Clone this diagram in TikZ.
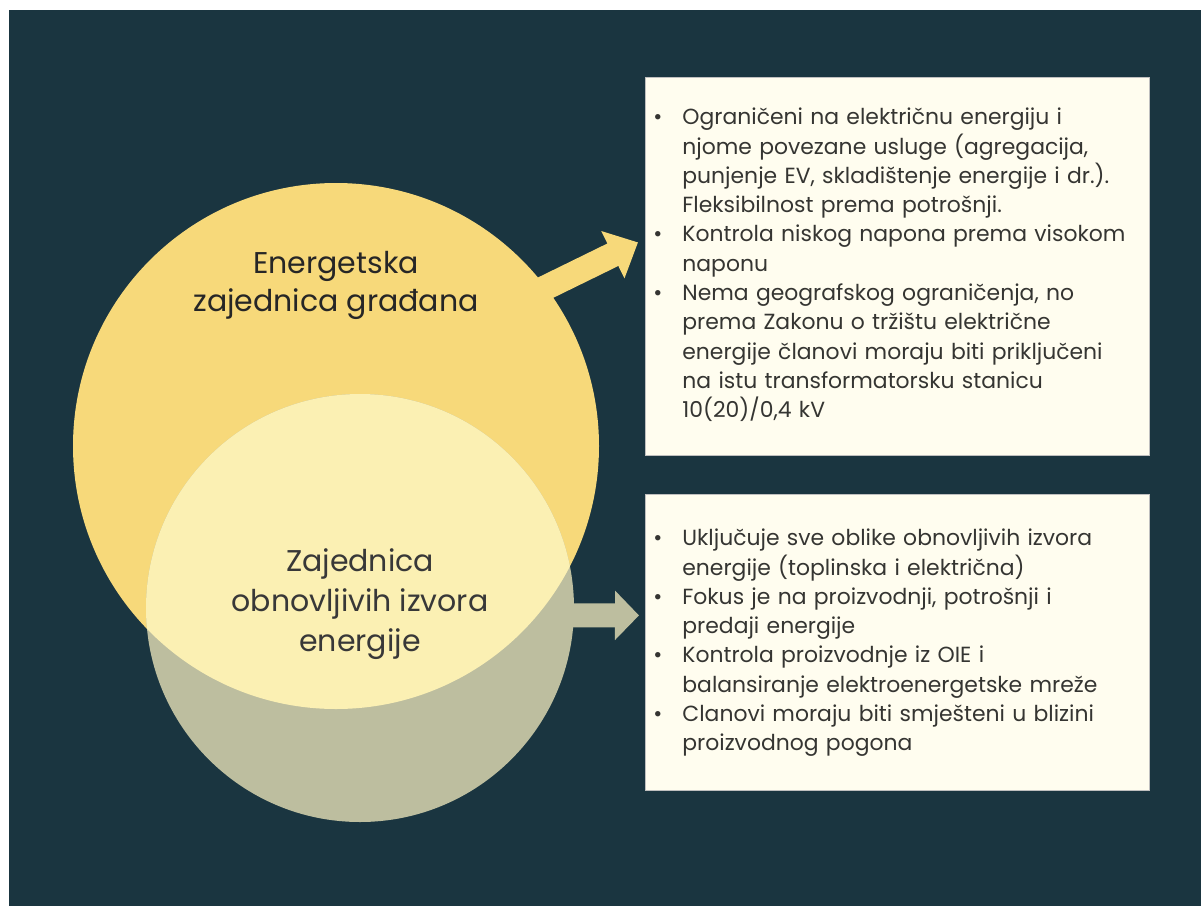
\documentclass[tikz,border=0pt]{standalone}
\usepackage{fontspec}
\setmainfont{Poppins}
\usepackage{enumitem}
\usetikzlibrary{calc,arrows.meta}
\definecolor{bgteal}{HTML}{1A3540}
\definecolor{sunyel}{HTML}{F7D97A}
\definecolor{paleyel}{HTML}{FBF0B3}
\definecolor{sage}{HTML}{BDBE9F}
\definecolor{cream}{HTML}{FFFDEF}
\definecolor{ink}{HTML}{353532}
\tikzset{l/.style={font=\fontsize{15}{19}\selectfont, align=center, text=black!85}}
\tikzset{m/.style={font=\fontsize{15}{20}\selectfont, align=center, text=black!78}}
\tikzset{box/.style={draw=black!25, line width=0.4pt, fill=cream, inner sep=0pt, anchor=north west, minimum width=252pt}}
\tikzset{pts/.style={anchor=north west, inner sep=0pt, text width=245pt, text=ink, font=\fontsize{10.95}{14.65}\selectfont}}
\tikzset{barrow/.style={line width=12.5pt, -{Triangle[length=14pt,width=25.5pt]}}}
\newcommand{\blist}[1]{\raggedright\begin{itemize}[leftmargin=12.5pt,labelsep=10pt,itemsep=0pt,topsep=0pt,parsep=0pt,partopsep=0pt,label=\textbullet]#1\end{itemize}}

\begin{document}
\begin{tikzpicture}[x=0.5pt,y=-0.5pt]
  \useasboundingbox (0,0) rectangle (1201,906);
  \fill[white] (0,0) rectangle (1201,906);
  \fill[bgteal] (9,10) rectangle (1201,906);

  \node[box, minimum height=189pt] (box1) at (645,77) {};
  \node[box, minimum height=148pt] (box2) at (645,494) {};
  \coordinate (ezgc) at (336,446);
  \coordinate (zoiec) at (360,608);
  \coordinate (tipA) at ($(box1.west)+(-7,-24)$);
  \coordinate (tipB) at ($(box2.west)+(-6,-27)$);

  \draw[barrow, sunyel] ($(ezgc)+(164,-136)$) -- (tipA);
  \draw[line width=12pt, sage, -{Triangle[length=12pt,width=24pt]}] ($(zoiec)+(100,7)$) -- (tipB);

  \node[circle, fill=sunyel, inner sep=0pt, minimum size=263pt] (ezg) at (ezgc) {};
  \node[circle, fill=sage, inner sep=0pt, minimum size=214pt] (zoie) at (zoiec) {};
  \begin{scope}
    \clip (ezg.center) circle (131.5pt);
    \fill[paleyel] (zoie.center) circle (107pt);
  \end{scope}

  \node[l] (ezgl) at (336,285) {Energetska\\zajednica građana};
  \node[m] (zoiel) at (360,604) {Zajednica\\obnovljivih izvora\\energije};

  \node[pts] (t1) at (657,95) {\blist{
    \item Ograničeni na električnu energiju i\newline njome povezane usluge (agregacija,\newline punjenje EV, skladištenje energije i dr.).\newline Fleksibilnost prema potrošnji.
    \item Kontrola niskog napona prema visokom\newline naponu
    \item Nema geografskog ograničenja, no\newline prema Zakonu o tržištu električne\newline energije članovi moraju biti priključeni\newline na istu transformatorsku stanicu\newline 10(20)/0,4 kV}};
  \node[pts] (t2) at (657,516) {\blist{
    \item Uključuje sve oblike obnovljivih izvora\newline energije (toplinska i električna)
    \item Fokus je na proizvodnji, potrošnji i\newline predaji energije
    \item Kontrola proizvodnje iz OIE i\newline balansiranje elektroenergetske mreže
    \item Clanovi moraju biti smješteni u blizini\newline proizvodnog pogona}};
\end{tikzpicture}
\end{document}
